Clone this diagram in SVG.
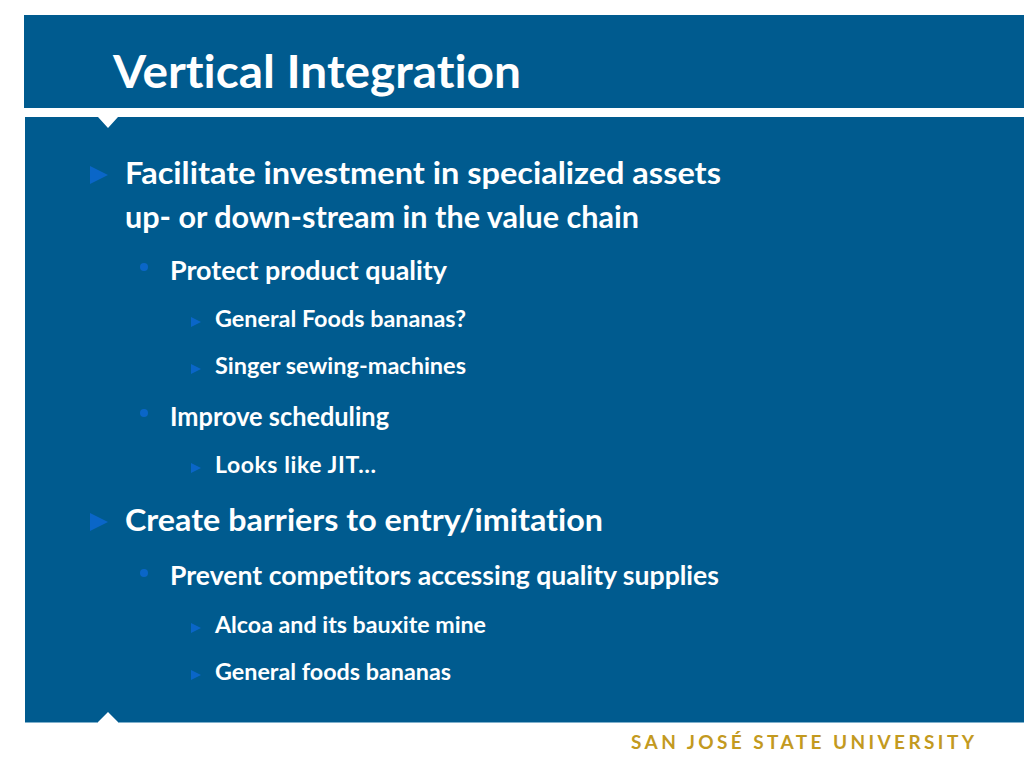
<svg xmlns="http://www.w3.org/2000/svg" width="1024" height="768" viewBox="0 0 1024 768">
<style>
text{font-family:"Lato","Open Sans","Liberation Sans",sans-serif;fill:#fff;font-weight:700;font-variant-ligatures:none}
.t{font-size:46px}
.l1{font-size:30px}
.l2{font-size:26px}
.l3{font-size:23px}
.b{fill:#0a66c8}
</style>
<defs>
<path id="a1" class="b" d="M0-9 18 0 0 9Z"/>
<path id="a3" class="b" d="M0-5 10 0 0 5Z"/>
<circle id="d" class="b" cx="0" cy="0" r="4"/>
</defs>
<rect width="1024" height="768" fill="#fff"/>
<rect x="24" y="15" width="1000" height="93" fill="#005b8f"/>
<path d="M25 117H98L108 128 118 117H1024V722H118L108 712 98 722H25Z" fill="#005b8f"/>
<path d="M25 722.500H98M118 722.500H1024" stroke="#7fb0cc" stroke-width="1"/>
<text class="t" x="113" y="88" textLength="408" lengthAdjust="spacingAndGlyphs">Vertical Integration</text>
<use href="#a1" x="90" y="175"/>
<text class="l1" x="125" y="184" textLength="596" lengthAdjust="spacingAndGlyphs">Facilitate investment in specialized assets</text>
<text class="l1" x="125" y="228" textLength="514" lengthAdjust="spacingAndGlyphs">up- or down-stream in the value chain</text>
<use href="#d" x="144" y="267"/>
<text class="l2" x="170" y="280" textLength="277" lengthAdjust="spacingAndGlyphs">Protect product quality</text>
<use href="#a3" x="191" y="322"/>
<text class="l3" x="215" y="327" textLength="251" lengthAdjust="spacingAndGlyphs">General Foods bananas?</text>
<use href="#a3" x="191" y="369"/>
<text class="l3" x="215" y="374" textLength="251" lengthAdjust="spacingAndGlyphs">Singer sewing-machines</text>
<use href="#d" x="144" y="413"/>
<text class="l2" x="170" y="426" textLength="219" lengthAdjust="spacingAndGlyphs">Improve scheduling</text>
<use href="#a3" x="191" y="468"/>
<text class="l3" x="215" y="473" textLength="161" lengthAdjust="spacing">Looks like JIT…</text>
<use href="#a1" x="90" y="522"/>
<text class="l1" x="125" y="531" textLength="478" lengthAdjust="spacingAndGlyphs">Create barriers to entry/imitation</text>
<use href="#d" x="144" y="573"/>
<text class="l2" x="170" y="585" textLength="549" lengthAdjust="spacingAndGlyphs">Prevent competitors accessing quality supplies</text>
<use href="#a3" x="191" y="628"/>
<text class="l3" x="215" y="633" textLength="271" lengthAdjust="spacingAndGlyphs">Alcoa and its bauxite mine</text>
<use href="#a3" x="191" y="675"/>
<text class="l3" x="215" y="680" textLength="236" lengthAdjust="spacingAndGlyphs">General foods bananas</text>
<text x="631" y="749" textLength="343" lengthAdjust="spacing" style="fill:#c39a1f;font-size:19px">SAN JOSÉ STATE UNIVERSITY</text>
</svg>
